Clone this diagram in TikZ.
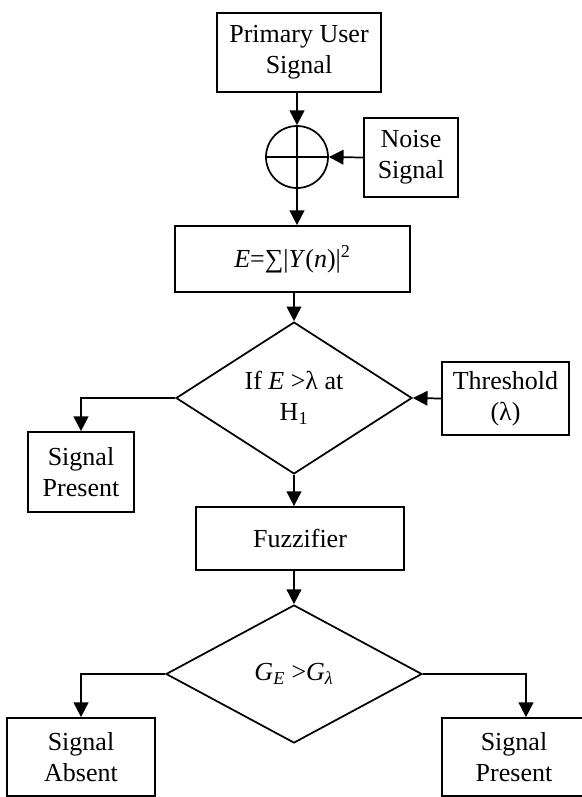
\documentclass[tikz,border=0pt]{standalone}
\usepackage{fontspec}
\setmainfont{Liberation Serif}
\usetikzlibrary{shapes.geometric,arrows.meta}

\begin{document}
\begin{tikzpicture}[x=0.75pt,y=-0.75pt,line width=1.3pt,
  font=\fontsize{19.5}{23}\selectfont,
  box/.style={draw, rectangle, inner sep=0pt, align=center},
  decision/.style={draw, diamond, inner sep=0pt, align=center},
  arr/.style={-{Triangle[width=11pt,length=11pt]}}]
\useasboundingbox (0,0) rectangle (582,797);
% blocks
\node[box, minimum width=123pt, minimum height=59.25pt] (pus) at (299,52.5) {Primary User\\Signal};
\node[draw, circle, inner sep=0pt, minimum size=46.5pt] (sum) at (297,157) {};
\draw (sum.north) -- (sum.south) (sum.west) -- (sum.east);
\node[box, minimum width=70.5pt, minimum height=59.25pt] (noise) at (411,157.5) {Noise\\Signal};
\node[box, minimum width=176.25pt, minimum height=49.5pt] (energy) at (292.5,259) {\textit{E}=∑|\textit{Y}(\textit{n})|\textsuperscript{2}};
\node[decision, minimum width=177pt, minimum height=106.5pt] (dec1) at (294,398) {If \textit{E} >λ at\\H\textsubscript{1}};
\node[box, minimum width=95.25pt, minimum height=54.75pt] (thr) at (505.5,398.5) {Threshold\\(λ)};
\node[box, minimum width=79.5pt, minimum height=60pt] (sp1) at (81,472) {Signal\\Present};
\node[box, minimum width=156pt, minimum height=47.25pt] (fuzz) at (300,538.5) {Fuzzifier};
\node[decision, minimum width=192pt, minimum height=103.5pt] (dec2) at (294,674) {\textit{G\textsubscript{E}} >\textit{G\textsubscript{λ}}};
\node[box, minimum width=111pt, minimum height=58.5pt] (sa) at (81,757) {Signal\\Absent};
\node[box, minimum width=108pt, minimum height=58.5pt] (sp2) at (514,757) {Signal\\Present};
% arrows
\draw[arr] (sum.north |- pus.south) -- (sum.north);
\draw[arr] (noise.west) -- (sum.east);
\draw[arr] (sum.south) -- (sum.south |- energy.north);
\draw[arr] (dec1.north |- energy.south) -- (dec1.north);
\draw[arr] (thr.west) -- (dec1.east);
\draw[arr] (dec1.west) -| (sp1.north);
\draw[arr] (dec1.south) -- (dec1.south |- fuzz.north);
\draw[arr] (dec2.north |- fuzz.south) -- (dec2.north);
\draw[arr] (dec2.west) -| (sa.north);
\draw[arr] (dec2.east) -| ([xshift=9pt]sp2.north);
\end{tikzpicture}
\end{document}
